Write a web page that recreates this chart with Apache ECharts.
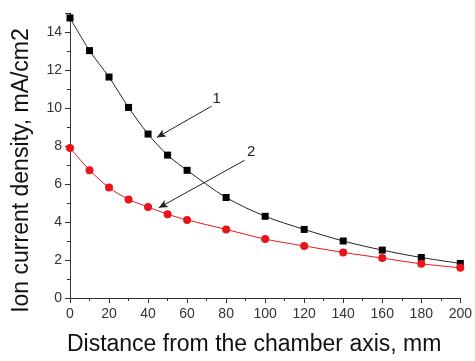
<!DOCTYPE html>
<html>
<head>
<meta charset="utf-8">
<script src="https://cdn.jsdelivr.net/npm/echarts@6/dist/echarts.min.js"></script>
<style>html,body{margin:0;padding:0;background:#fff}#main{width:475px;height:361px}</style>
</head>
<body>
<div id="main"></div>
<script>
// distance, mm
var distance = [0, 10, 20, 30, 40, 50, 60, 80, 100, 120, 140, 160, 180, 200];
// curve 1 (black squares)
var curve1 = [14.74, 13.02, 11.63, 10.03, 8.63, 7.52, 6.72, 5.29, 4.30, 3.61, 3.00, 2.52, 2.13, 1.82];
// curve 2 (red circles)
var curve2 = [7.90, 6.73, 5.81, 5.19, 4.79, 4.41, 4.11, 3.61, 3.10, 2.74, 2.40, 2.10, 1.80, 1.59];
var yTicks = [0, 2, 4, 6, 8, 10, 12, 14];

function pairs(xs, ys) {
    return xs.map(function (x, i) { return [x, ys[i]]; });
}

var myChart = echarts.init(document.getElementById('main'));

var axisText = { color: '#333', fontFamily: 'Liberation Sans', fontSize: 14 };

option = {
    animation: false,
    grid: { left: 70, right: 14, top: 13, bottom: 59 },
    xAxis: {
        type: 'value',
        min: 0,
        max: 200,
        interval: 20,
        name: 'Distance from the chamber axis, mm',
        nameLocation: 'middle',
        nameGap: 35,
        nameTextStyle: { color: '#111', fontFamily: 'Liberation Sans', fontSize: 23, padding: [0, 22, 0, 0] },
        axisLine: { lineStyle: { color: '#333', width: 1 } },
        axisTick: { inside: false, length: 5, lineStyle: { color: '#333' } },
        minorTick: { show: true, splitNumber: 2, length: 3, lineStyle: { color: '#333' } },
        axisLabel: Object.assign({ margin: 9 }, axisText),
        splitLine: { show: false }
    },
    yAxis: {
        type: 'value',
        min: 0,
        max: 15,
        interval: 2,
        name: 'Ion current density, mA/cm2',
        nameLocation: 'middle',
        nameGap: 37,
        nameTextStyle: { color: '#111', fontFamily: 'Liberation Sans', fontSize: 23, padding: [0, 30, 0, 0] },
        axisLine: { show: true, lineStyle: { color: '#333', width: 1 } },
        axisTick: { show: true, inside: false, length: 5, lineStyle: { color: '#333' } },
        minorTick: { show: true, splitNumber: 2, length: 3, lineStyle: { color: '#333' } },
        axisLabel: Object.assign({
            margin: 8,
            formatter: function (v) { return yTicks.indexOf(v) >= 0 ? v : ''; }
        }, axisText),
        splitLine: { show: false }
    },
    series: [
        {
            name: '1',
            type: 'line',
            smooth: 0.3,
            data: pairs(distance, curve1),
            symbol: 'rect',
            symbolSize: 7,
            itemStyle: { color: '#000' },
            lineStyle: { color: '#222', width: 1 },
            markLine: {
                silent: true,
                symbol: ['none', 'arrow'],
                symbolSize: [6, 9],
                lineStyle: { color: '#222', width: 1, type: 'solid' },
                label: { show: false },
                data: [
                    [{ coord: [72.6, 10.1] }, { coord: [44.5, 8.45] }],
                    [{ coord: [89.5, 7.25] }, { coord: [45.5, 4.75] }]
                ]
            },
            markPoint: {
                silent: true,
                symbol: 'circle',
                symbolSize: 1,
                itemStyle: { color: 'rgba(0,0,0,0)' },
                label: { show: true, color: '#222', fontFamily: 'Liberation Sans', fontSize: 15 },
                data: [
                    { coord: [75.2, 10.5], value: '1' },
                    { coord: [92.8, 7.7], value: '2' }
                ]
            }
        },
        {
            name: '2',
            type: 'line',
            smooth: 0.3,
            data: pairs(distance, curve2),
            symbol: 'circle',
            symbolSize: 8,
            itemStyle: { color: '#e8141c' },
            lineStyle: { color: '#e8141c', width: 1 }
        }
    ]
};
myChart.setOption(option);
</script>
</body>
</html>
